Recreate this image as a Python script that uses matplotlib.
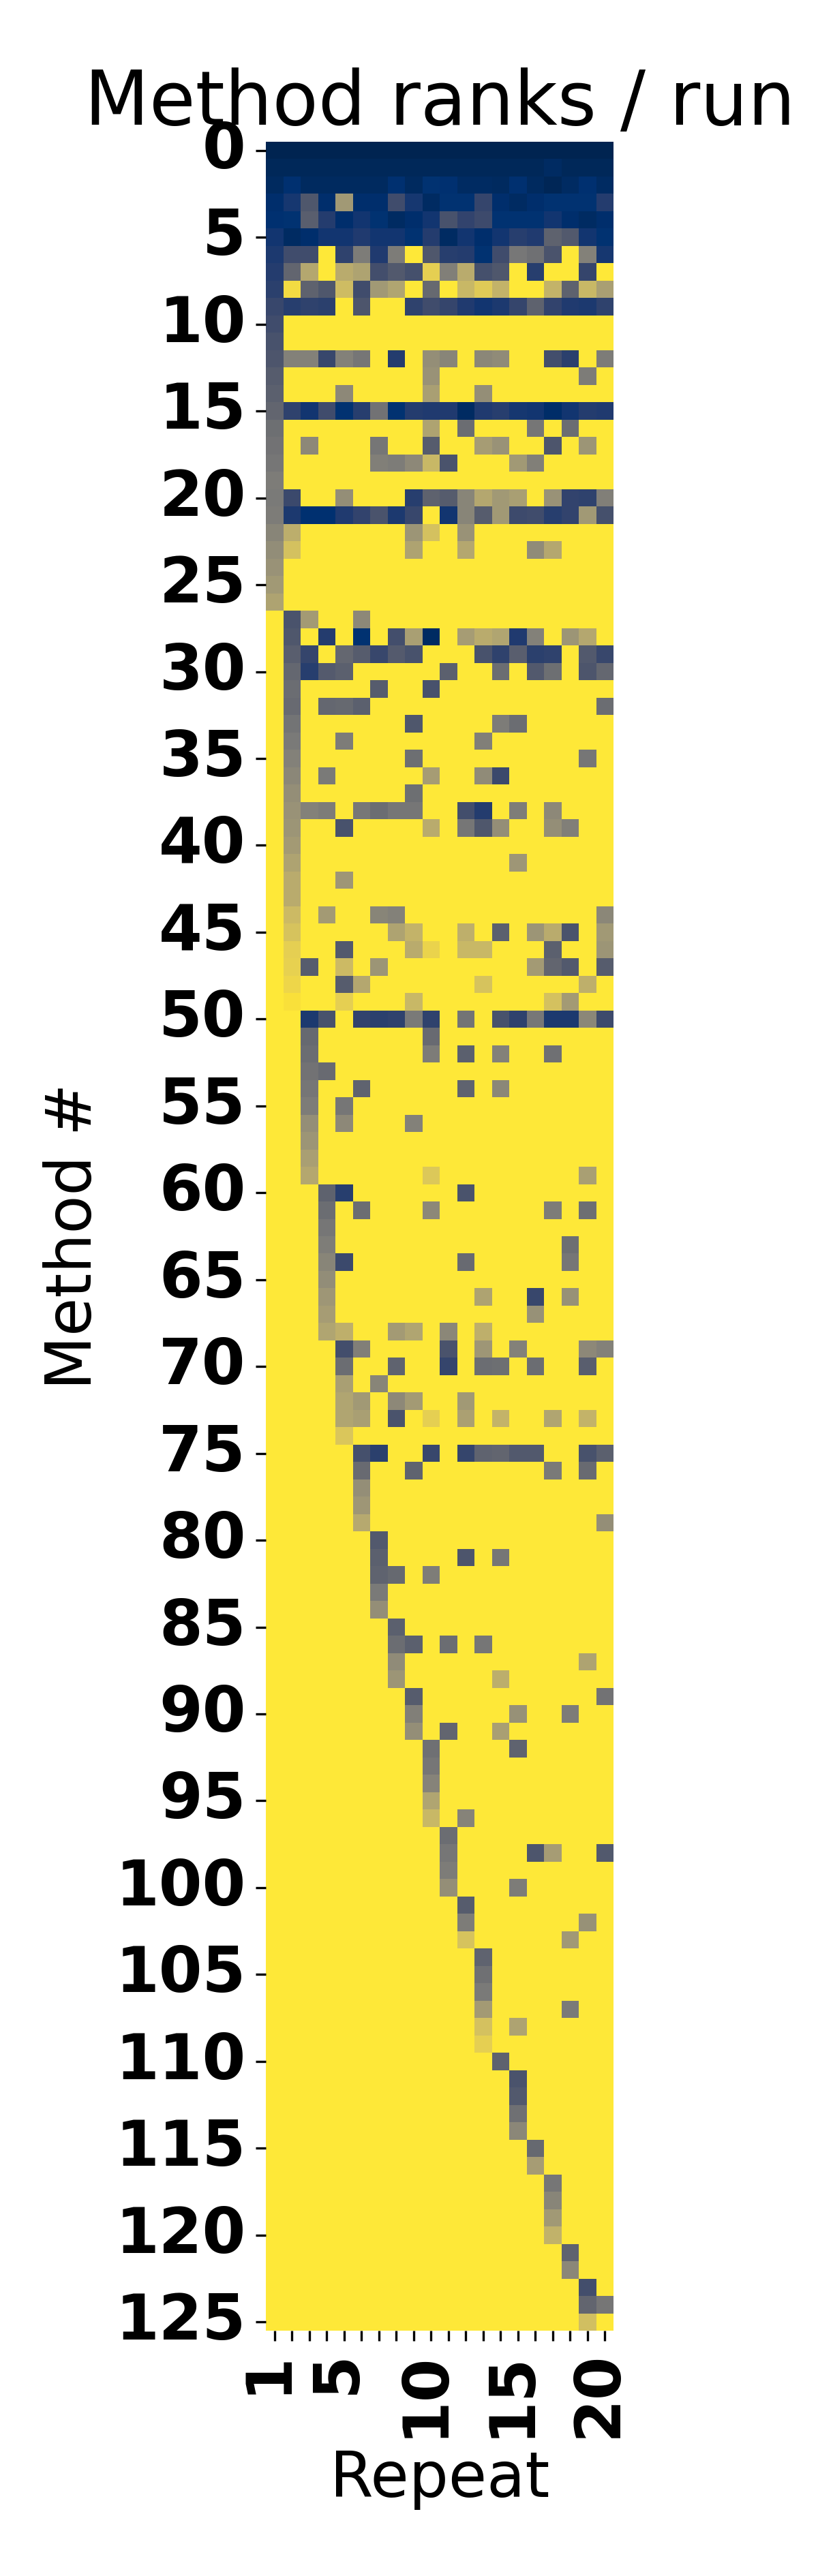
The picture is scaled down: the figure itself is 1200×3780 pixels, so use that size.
import numpy as np
import matplotlib
matplotlib.use("Agg")
import matplotlib.pyplot as plt
from matplotlib.transforms import ScaledTranslation

# rank of each method per repeat, in percent of the colour range (Y = never ranked / top of scale)
Y = 100
repeats = list(range(1, 21))
repeat_labels = ["1", "", "", "", "5", "", "", "", "", "10", "", "", "", "", "15", "", "", "", "", "20"]
method_ticks = list(range(0, 126, 5))

# rows 0-9 are dense
top_rows = [
    [1, 1, 1, 1, 1, 1, 1, 1, 1, 1, 1, 1, 1, 1, 1, 1, 1, 1, 1, 1],
    [3, 3, 3, 3, 3, 3, 3, 3, 3, 3, 3, 3, 3, 3, 3, 3, 5, 3, 3, 3],
    [4, 8, 4, 4, 4, 4, 4, 8, 4, 9, 8, 5, 5, 4, 8, 4, 2, 5, 8, 5],
    [7, 12, 30, 7, 65, 7, 7, 24, 12, 5, 9, 9, 20, 7, 5, 7, 9, 9, 9, 15],
    [8, 9, 34, 15, 7, 11, 9, 5, 7, 11, 27, 19, 23, 9, 9, 9, 11, 7, 5, 7],
    [11, 5, 7, 11, 11, 14, 11, 11, 9, 15, 5, 11, 7, 11, 16, 14, 36, 31, 11, 9],
    [13, 24, 24, Y, 18, 50, 14, 50, Y, 30, 16, 15, 9, 24, 48, 44, 28, Y, 53, 12],
    [15, 38, 72, Y, 74, 70, 25, 31, 26, 90, 52, 74, 26, 30, Y, 16, Y, Y, 20, Y],
    [17, 95, 36, 30, 82, 24, 65, 71, Y, 40, Y, 80, 88, 78, Y, Y, 78, 36, 80, 68],
    [21, 16, 18, 17, Y, 29, Y, Y, 18, 24, 20, 14, 11, 13, 20, 36, 19, 14, 13, 18],
]

# rows 10-125, {repeat index: value}, anything not listed is Y
sparse_rows = [
    {0: 24},
    {0: 27},
    {0: 29, 1: 53, 2: 53, 3: 21, 4: 53, 5: 47, 7: 15, 9: 60, 10: 55, 12: 56, 13: 58, 16: 25, 17: 17, 19: 50},
    {0: 33, 9: 62, 18: 50},
    {0: 35, 4: 57, 9: 68, 12: 60},
    {0: 38, 1: 18, 2: 11, 3: 24, 4: 9, 5: 16, 6: 45, 7: 9, 8: 15, 9: 14, 10: 14, 11: 5, 12: 14, 13: 16, 14: 12, 15: 11, 16: 6, 17: 11, 18: 15, 19: 14},
    {0: 43, 9: 70, 11: 42, 15: 47, 17: 42},
    {0: 45, 2: 57, 6: 47, 9: 33, 12: 67, 13: 62, 16: 29, 18: 63},
    {0: 47, 6: 52, 7: 50, 8: 57, 9: 80, 10: 28, 14: 65, 15: 52},
    {0: 50},
    {0: 49, 1: 22, 4: 60, 8: 16, 9: 36, 10: 33, 11: 55, 12: 72, 13: 65, 14: 68, 16: 62, 17: 19, 18: 18, 19: 52},
    {0: 50, 1: 13, 2: 8, 3: 8, 4: 14, 5: 19, 6: 28, 7: 13, 8: 21, 10: 11, 11: 55, 12: 33, 13: 65, 14: 23, 15: 24, 16: 16, 17: 19, 18: 65, 19: 26},
    {0: 55, 1: 75, 8: 63, 9: 84, 11: 62},
    {0: 59, 1: 84, 8: 70, 11: 72, 15: 58, 16: 72},
    {0: 62},
    {0: 65},
    {0: 70},
    {1: 28, 2: 66, 5: 57},
    {1: 30, 3: 15, 5: 9, 7: 25, 8: 68, 9: 5, 11: 67, 12: 74, 13: 71, 14: 14, 15: 53, 17: 63, 18: 72},
    {1: 34, 2: 20, 4: 39, 5: 33, 6: 21, 7: 32, 8: 27, 12: 27, 13: 18, 14: 34, 15: 17, 16: 18, 18: 31, 19: 21},
    {1: 39, 2: 16, 3: 32, 4: 35, 10: 35, 13: 42, 15: 31, 16: 43, 18: 29, 19: 39},
    {1: 42, 6: 33, 9: 27},
    {1: 41, 3: 39, 4: 40, 5: 35, 19: 42},
    {1: 46, 8: 30, 13: 50, 14: 42},
    {1: 49, 4: 50, 12: 52},
    {1: 53, 8: 43, 18: 47},
    {1: 56, 3: 49, 9: 67, 12: 58, 13: 22},
    {1: 60, 8: 43},
    {1: 62, 2: 53, 3: 50, 5: 48, 6: 42, 7: 47, 8: 47, 11: 25, 12: 15, 14: 51, 16: 57},
    {1: 63, 4: 27, 9: 74, 11: 47, 12: 30, 13: 60, 16: 60, 17: 52},
    {1: 66},
    {1: 70, 14: 64},
    {1: 74, 4: 64},
    {1: 74},
    {1: 81, 3: 66, 6: 55, 7: 53, 19: 56},
    {1: 85, 7: 70, 8: 78, 11: 76, 13: 35, 15: 63, 16: 74, 17: 28, 19: 65},
    {1: 90, 4: 31, 8: 74, 9: 92, 11: 80, 12: 80, 16: 35, 19: 63},
    {1: 91, 2: 33, 4: 81, 6: 63, 15: 66, 16: 38, 17: 31, 19: 33},
    {1: 93, 4: 33, 5: 72, 12: 85, 18: 76},
    {1: 97, 4: 90, 8: 80, 16: 84, 17: 66},
    {2: 13, 3: 27, 5: 19, 6: 17, 7: 18, 8: 49, 9: 18, 11: 46, 13: 27, 14: 18, 15: 48, 16: 13, 17: 13, 18: 56, 19: 23},
    {2: 40, 9: 41},
    {2: 42, 9: 50, 11: 35, 13: 53, 16: 44},
    {2: 45, 3: 41},
    {2: 47, 5: 37, 11: 37, 13: 56},
    {2: 50, 4: 47},
    {2: 60, 4: 57, 8: 53},
    {2: 63},
    {2: 68},
    {2: 72, 9: 87, 18: 68},
    {3: 36, 4: 16, 11: 28},
    {3: 42, 5: 42, 9: 57, 16: 50, 18: 43},
    {3: 47},
    {3: 51, 17: 43},
    {3: 55, 4: 22, 11: 41, 17: 47},
    {3: 59},
    {3: 64, 12: 70, 15: 21, 17: 61},
    {3: 67, 15: 61},
    {3: 71, 4: 76, 7: 66, 8: 71, 10: 56, 12: 76},
    {4: 25, 5: 52, 10: 28, 12: 64, 14: 53, 18: 57, 19: 53},
    {4: 42, 7: 37, 10: 20, 12: 42, 13: 43, 15: 42, 18: 34},
    {4: 68, 6: 55},
    {4: 71, 5: 65, 7: 57, 8: 66, 11: 65},
    {4: 71, 5: 68, 7: 28, 9: 90, 11: 69, 13: 78, 16: 71, 18: 78},
    {4: 86},
    {5: 26, 6: 17, 9: 21, 11: 20, 12: 37, 13: 38, 14: 31, 15: 31, 18: 27, 19: 35},
    {5: 41, 8: 37, 16: 49, 18: 41},
    {5: 60},
    {5: 64},
    {5: 73, 19: 60},
    {6: 31},
    {6: 35, 11: 29, 13: 47},
    {6: 37, 7: 40, 9: 51},
    {6: 49},
    {6: 60},
    {7: 35},
    {7: 42, 8: 35, 10: 42, 12: 47},
    {7: 58, 18: 70},
    {7: 63, 13: 75},
    {8: 33, 19: 45},
    {8: 52, 14: 61, 17: 50},
    {8: 60, 10: 38, 13: 68},
    {9: 44, 14: 37},
    {9: 47},
    {9: 54},
    {9: 71},
    {9: 80, 11: 54},
    {10: 42},
    {10: 47, 15: 29, 16: 67, 19: 31},
    {10: 50},
    {10: 60, 14: 50},
    {11: 33},
    {11: 50, 18: 61},
    {11: 85, 17: 65},
    {12: 37},
    {12: 44},
    {12: 49},
    {12: 66, 17: 49},
    {12: 84, 14: 70},
    {12: 90},
    {13: 36},
    {14: 28},
    {14: 31},
    {14: 44},
    {14: 56},
    {15: 40},
    {15: 67},
    {16: 47},
    {16: 55},
    {16: 65},
    {16: 77},
    {17: 37},
    {17: 56},
    {18: 25},
    {18: 38, 19: 47},
    {18: 83},
]

ranks = np.array(top_rows + [[row.get(c, Y) for c in range(len(repeats))] for row in sparse_rows])

fig = plt.figure(figsize=(4, 12.6), dpi=300)
ax = fig.add_axes([390 / 1200, 1 - 3420 / 3780, 510 / 1200, (3420 - 208) / 3780])

ax.pcolormesh(ranks, cmap="cividis", vmin=0, vmax=100, linewidths=0, edgecolor="white")
ax.set_xlim(0, ranks.shape[1])
ax.set_ylim(ranks.shape[0], 0)
for s in ax.spines.values():
    s.set_visible(False)

ax.set_xticks(np.arange(len(repeats)) + 0.5)
ax.set_xticklabels(repeat_labels, rotation=90, fontsize=22, fontweight="bold")
ax.set_yticks(np.array(method_ticks) + 0.5)
ax.set_yticklabels(method_ticks, rotation=0, fontsize=22, fontweight="bold", va="center")

# repeat labels sit a little left of their ticks in the original
shift = ScaledTranslation(-10 / 300, 0, fig.dpi_scale_trans)
for lab in ax.get_xticklabels():
    lab.set_transform(lab.get_transform() + shift)

ax.set_title("Method ranks / run", fontsize=26.4)
ax.set_xlabel("Repeat", fontsize=22)
ax.set_ylabel("Method #", fontsize=22)

fig.savefig("out.png", dpi=300)
